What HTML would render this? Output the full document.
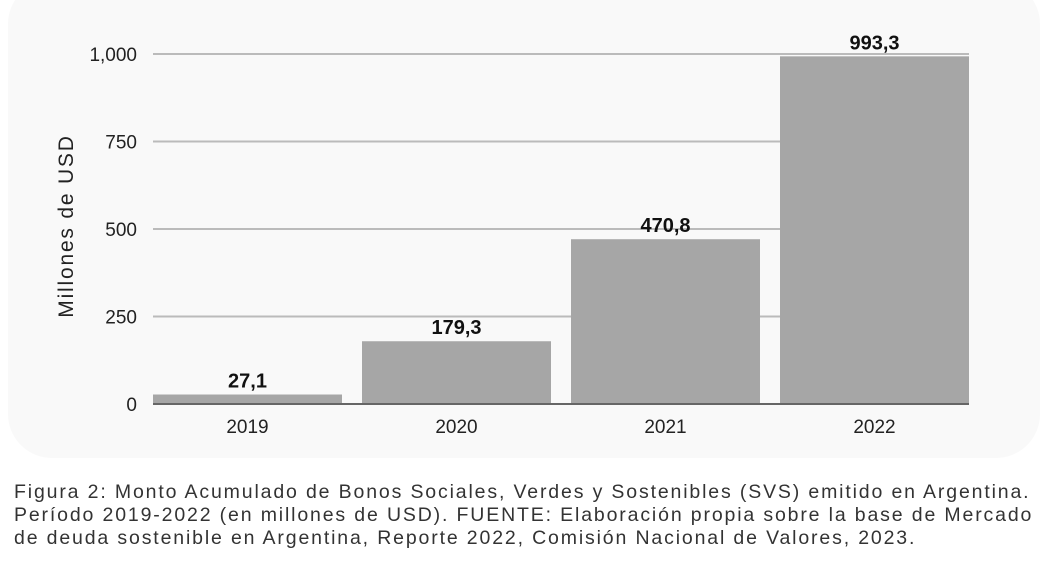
<!DOCTYPE html>
<html><head><meta charset="utf-8"><style>
body{margin:0;width:1048px;height:572px;background:#fff;font-family:"Liberation Sans",sans-serif;overflow:hidden}
#panel{position:absolute;left:8px;top:-20px;width:1032px;height:478px;background:#f9f9f9;border-radius:44px}
#cap{position:absolute;left:14px;top:481px;font-size:19.5px;line-height:23px;color:#333;letter-spacing:1.85px;white-space:nowrap}
svg{position:absolute;left:0;top:0}
</style></head><body>
<div id="panel"></div>
<svg id="chart" width="1048" height="460"></svg>
<div id="cap">Figura 2: Monto Acumulado de Bonos Sociales, Verdes y Sostenibles (SVS) emitido en Argentina.<br>Período 2019-2022 (en millones de USD). FUENTE: Elaboración propia sobre la base de Mercado<br>de deuda sostenible en Argentina, Reporte 2022, Comisión Nacional de Valores, 2023.</div>
<script>
const categories=["2019","2020","2021","2022"];
const values=[27.1,179.3,470.8,993.3];
const valueLabels=["27,1","179,3","470,8","993,3"];
const ticks=[0,250,500,750,1000];
const tickLabels=["0","250","500","750","1,000"];
const NS="http://www.w3.org/2000/svg";
const svg=document.getElementById('chart');
const x0=153,x1=969,y0=404,y1=54;
const y=v=>y0-(v/1000)*(y0-y1);
const step=(x1-x0-189)/(categories.length-1), bw=189;
function mk(t,a,txt){const e=document.createElementNS(NS,t);for(const k in a)e.setAttribute(k,a[k]);if(txt!==undefined)e.textContent=txt;svg.appendChild(e);return e;}
ticks.forEach((t,i)=>{
 if(t>0){const g=mk('line',{x1:x0,x2:x1,y1:y(t),y2:y(t),stroke:'#bbb','stroke-width':2});
 
 }
 const l=mk('text',{x:137,y:y(t)+7,'text-anchor':'end','font-size':19,fill:'#222'},tickLabels[i]);
 
 
});
categories.forEach((c,i)=>{
 const bx=x0+i*step;
 const b=mk('rect',{x:bx,y:y(values[i]),width:bw,height:y0-y(values[i]),fill:'#a6a6a6'});
 
 
 const cx=bx+bw/2;
 const v=mk('text',{x:cx,y:y(values[i])-7,'text-anchor':'middle','font-size':20,'font-weight':'bold',fill:'#111'},valueLabels[i]);
 
 
 const xl=mk('text',{x:cx,y:433,'text-anchor':'middle','font-size':19,fill:'#222'},c);
 
 
});
const base=mk('line',{x1:x0,x2:x1,y1:y0,y2:y0,stroke:'#666','stroke-width':2});


const yt=mk('text',{x:0,y:0,transform:'translate(73,226) rotate(-90)','text-anchor':'middle','font-size':21,fill:'#222','letter-spacing':'1.8'},'Millones de USD');


</script>
</body></html>
